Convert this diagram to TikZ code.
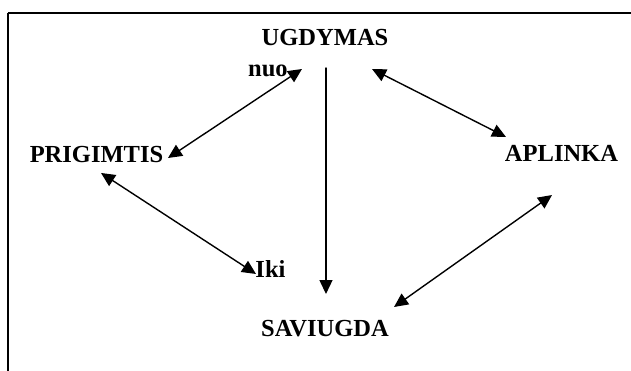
\documentclass[tikz,border=0pt]{standalone}
\usepackage{fontspec}
\setmainfont{Liberation Serif}
\usetikzlibrary{arrows.meta}

\begin{document}
\begin{tikzpicture}[line cap=round,line join=round,
    word/.style={font=\bfseries\fontsize{12.3}{14}\selectfont,inner sep=0pt,anchor=base},
    one/.style={line width=0.7pt,-{Triangle[length=7pt,width=6.5pt]}},
    both/.style={line width=0.7pt,{Triangle[length=7pt,width=6.5pt]}-{Triangle[length=7pt,width=6.5pt]}}]
  \useasboundingbox (0,0) rectangle (11.13,6.544);
  \coordinate (F1) at (0.141,0);
  \coordinate (F2) at (0.141,6.315);
  \coordinate (F3) at (11.13,6.315);
  \draw[line width=0.6pt,line cap=butt] (F1) -- (F2);
  \draw[line width=1pt,line cap=butt] (F2) -- (F3);
  \node[word] (ugd) at (5.733,5.750) {UGDYMAS};
  \node[word] (nuo) at (4.727,5.203) {nuo};
  \node[word] (pri) at (1.702,3.678) {PRIGIMTIS};
  \node[word] (apl) at (9.904,3.687) {APLINKA};
  \node[word] (sav) at (5.733,0.617) {SAVIUGDA};
  \node[word] (iki) at (4.771,1.658) {Iki};
  \coordinate (U1) at (5.327,5.327);
  \coordinate (U2) at (5.750,5.345);
  \coordinate (U3) at (6.562,5.327);
  \coordinate (P1) at (2.963,3.757);
  \coordinate (P2) at (1.782,3.493);
  \coordinate (A1) at (8.925,4.128);
  \coordinate (A2) at (9.737,3.104);
  \coordinate (S1) at (5.750,1.358);
  \coordinate (S2) at (6.950,1.129);
  \coordinate (K1) at (4.516,1.711);
  \draw[both] (P1) -- (U1);
  \draw[one] (U2) -- (S1);
  \draw[both] (U3) -- (A1);
  \draw[both] (P2) -- (K1);
  \draw[both] (S2) -- (A2);
\end{tikzpicture}
\end{document}
